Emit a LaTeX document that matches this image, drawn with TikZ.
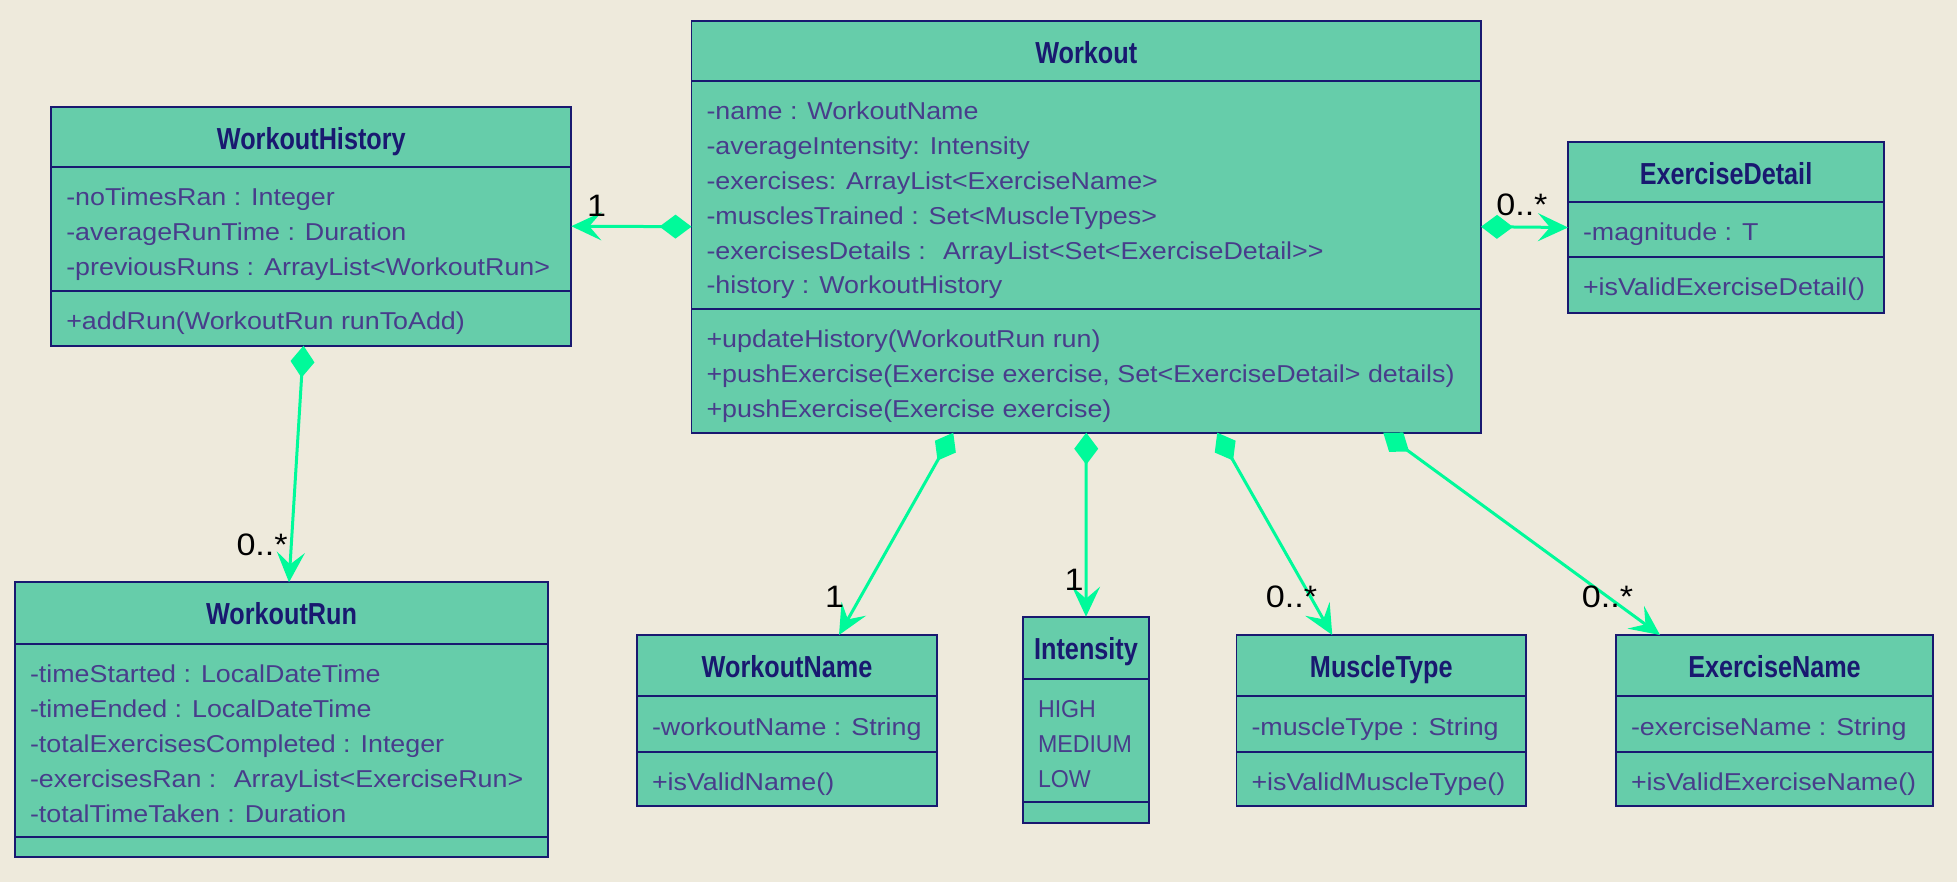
\documentclass[tikz,border=0pt]{standalone}
\usepackage{fontspec}
\setmainfont{Liberation Sans}[FakeStretch=1.1]
\newfontfamily\titlefont{Liberation Sans}[FakeStretch=0.83]
\newfontfamily\narrowfont{Liberation Sans}[FakeStretch=0.95]
\usetikzlibrary{arrows.meta, shapes.multipart}

\definecolor{bgcol}{HTML}{EEEADC}
\definecolor{classfill}{HTML}{66CDAA}
\definecolor{classline}{HTML}{191970}
\definecolor{attrtext}{HTML}{483D8B}
\definecolor{linkcol}{HTML}{00FA9A}

% parts of a class box: width, height, text
\newcommand{\ctitle}[3]{\parbox[c][\dimexpr#2-0.9pt][t]{#1}{\centering\titlefont\bfseries\fontsize{15.2}{18}\selectfont\rule{0pt}{20.8pt}\color{classline}#3}}
\newcommand{\cbody}[3]{\parbox[c][\dimexpr#2-0.9pt][t]{#1}{\raggedright\leftskip=7.5pt\fontsize{12.2}{17.4}\selectfont\rule{0pt}{19pt}\color{attrtext}#3}}
\newcommand{\cempty}[2]{\parbox[c][\dimexpr#2-0.9pt]{#1}{}}

\tikzset{
  umlclass/.style={rectangle split, rectangle split parts=3, draw=classline, line width=0.9pt,
    fill=classfill, inner sep=0pt, outer sep=0pt, anchor=north west},
  comp/.style={linkcol, line width=1.5pt,
    {Diamond[length=16pt,width=12pt]}-{Stealth[length=15pt,width=14pt,inset=6pt]}},
  mult/.style={font=\fontsize{15.5}{18}\selectfont, text=black, inner sep=0pt}
}

\begin{document}
\begin{tikzpicture}[x=0.5pt, y=-0.5pt]
\path[fill=bgcol, use as bounding box] (0,0) rectangle (1957,882);

\node[umlclass] (workout) at (691.5,20.7)
  {\ctitle{394.75pt}{30.15pt}{Workout}
   \nodepart{two}\cbody{394.75pt}{114pt}{-name : WorkoutName\\
     -averageIntensity: Intensity\\
     -exercises: ArrayList<ExerciseName>\\
     -musclesTrained : Set<MuscleTypes>\\
     -exercisesDetails :~ ArrayList<Set<ExerciseDetail>{}>\\
     -history : WorkoutHistory}
   \nodepart{three}\cbody{394.75pt}{61.85pt}{+updateHistory(WorkoutRun run)\\
     +pushExercise(Exercise exercise, Set<ExerciseDetail> details)\\
     +pushExercise(Exercise exercise)}};

\node[umlclass] (history) at (51.3,106.7)
  {\ctitle{260pt}{30pt}{WorkoutHistory}
   \nodepart{two}\cbody{260pt}{62.15pt}{-noTimesRan : Integer\\
     -averageRunTime : Duration\\
     -previousRuns : ArrayList<WorkoutRun>}
   \nodepart{three}\cbody{260pt}{27.35pt}{+addRun(WorkoutRun runToAdd)}};

\node[umlclass] (detail) at (1568,142)
  {\ctitle{158pt}{30pt}{ExerciseDetail}
   \nodepart{two}\cbody{158pt}{27.5pt}{-magnitude : T}
   \nodepart{three}\cbody{158pt}{28pt}{+isValidExerciseDetail()}};

\node[umlclass] (run) at (15,582.3)
  {\ctitle{266.5pt}{30.85pt}{WorkoutRun}
   \nodepart{two}\cbody{266.5pt}{96.65pt}{-timeStarted : LocalDateTime\\
     -timeEnded : LocalDateTime\\
     -totalExercisesCompleted : Integer\\
     -exercisesRan :~ ArrayList<ExerciseRun>\\
     -totalTimeTaken : Duration}
   \nodepart{three}\cempty{266.5pt}{10pt}};

\node[umlclass] (wname) at (637,635)
  {\ctitle{150pt}{30.65pt}{WorkoutName}
   \nodepart{two}\cbody{150pt}{27.7pt}{-workoutName : String}
   \nodepart{three}\cbody{150pt}{27.15pt}{+isValidName()}};

\node[umlclass] (intensity) at (1023,616.7)
  {\ctitle{63pt}{31.15pt}{Intensity}
   \nodepart{two}\cbody{63pt}{61.65pt}{\narrowfont HIGH\\ MEDIUM\\ LOW}
   \nodepart{three}\cempty{63pt}{10.5pt}};

\node[umlclass] (mtype) at (1236.5,635)
  {\ctitle{144.75pt}{30.65pt}{MuscleType}
   \nodepart{two}\cbody{144.75pt}{27.7pt}{-muscleType : String}
   \nodepart{three}\cbody{144.75pt}{27.15pt}{+isValidMuscleType()}};

\node[umlclass] (ename) at (1616,635)
  {\ctitle{158.5pt}{30.65pt}{ExerciseName}
   \nodepart{two}\cbody{158.5pt}{27.7pt}{-exerciseName : String}
   \nodepart{three}\cbody{158.5pt}{27.15pt}{+isValidExerciseName()}};

\draw[comp] (workout.west) -- node[mult, pos=0.79, yshift=10pt] {1} (history.east);
\draw[comp] (workout.east) -- node[mult, pos=0.47, yshift=11pt] {0..*} (detail.west);
\draw[comp] ([xshift=-3.9pt]history.south) -- node[mult, pos=0.84, xshift=-14.6pt] {0..*} ([xshift=3.75pt]run.north);
\draw[comp] ([xshift=-66.5pt]workout.south) -- node[mult, pos=0.81, xshift=-13pt] {1} ([xshift=26pt]wname.north);
\draw[comp] (workout.south) -- node[mult, pos=0.8, xshift=-6pt] {1} (intensity.north);
\draw[comp] ([xshift=65.5pt]workout.south) -- node[mult, pos=0.81, xshift=-9.5pt] {0..*} ([xshift=-24.5pt]mtype.north);
\draw[comp] ([xshift=148.5pt]workout.south) -- node[mult, pos=0.81] {0..*} ([xshift=-57.25pt]ename.north);

\end{tikzpicture}
\end{document}
